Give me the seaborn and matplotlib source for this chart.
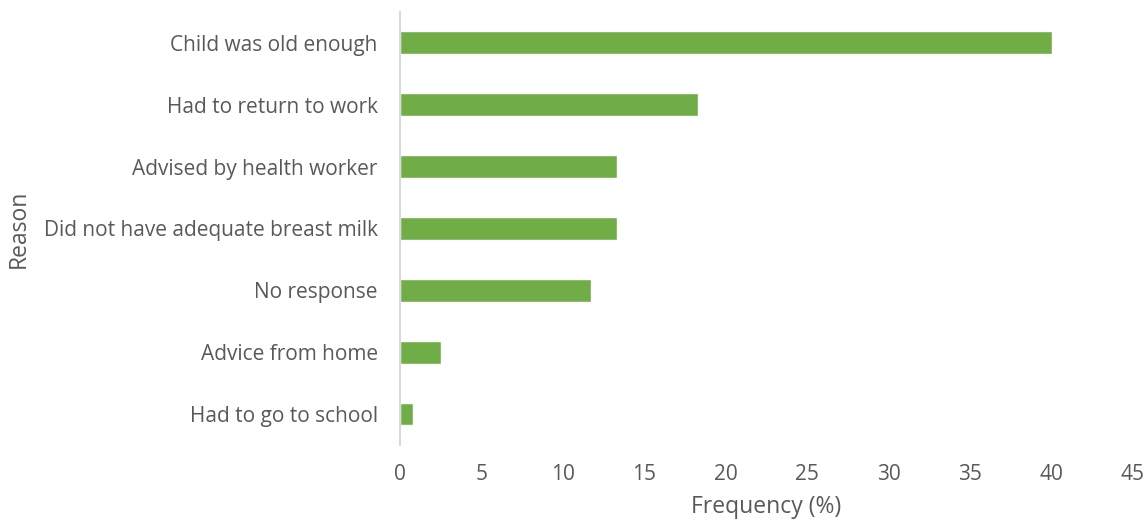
"""
Horizontal bar chart: reasons for stopping breastfeeding, frequency (%).
"""
import pandas as pd
import matplotlib
matplotlib.use("Agg")
from matplotlib import pyplot as plt
import seaborn as sns

# Data (n = 120)
reasons = [
    "Child was old enough",
    "Had to return to work",
    "Advised by health worker",
    "Did not have adequate breast milk",
    "No response",
    "Advice from home",
    "Had to go to school",
]
frequency = [40.0, 18.3, 13.3, 13.3, 11.7, 2.5, 0.8]
x_ticks = [0, 5, 10, 15, 20, 25, 30, 35, 40, 45]

text_color = "#595959"
bar_color = "#70AD47"

sns.set_theme(style="white")
plt.rcParams["font.family"] = ["Open Sans", "DejaVu Sans"]

df = pd.DataFrame({"Reason": reasons, "Frequency (%)": frequency})

fig, ax = plt.subplots(
    figsize=(11.45, 5.21),
    dpi=100,
    gridspec_kw=dict(left=0.3493, right=0.9895, top=0.977, bottom=0.146),
)

sns.barplot(
    data=df,
    x="Frequency (%)",
    y="Reason",
    orient="h",
    color=bar_color,
    saturation=1,
    width=0.37,
    ax=ax,
)

# Axis formatting
ax.set_xlim(0, 45)
ax.set_xticks(x_ticks)
ax.set_xticklabels([str(t) for t in x_ticks])
ax.tick_params(axis="x", length=0, pad=14, labelsize=15, labelcolor=text_color)
ax.tick_params(axis="y", length=0, pad=16, labelsize=15, labelcolor=text_color)

for side in ["top", "right", "bottom"]:
    ax.spines[side].set_visible(False)
ax.spines["left"].set_color("#D9D9D9")
ax.spines["left"].set_linewidth(1.5)

ax.set_xlabel("Frequency (%)", fontsize=16.5, color=text_color, labelpad=7)
ax.set_ylabel("Reason", fontsize=16.5, color=text_color)
ax.yaxis.set_label_coords(-0.503, 0.5)

plt.savefig("out.png", dpi=100)
